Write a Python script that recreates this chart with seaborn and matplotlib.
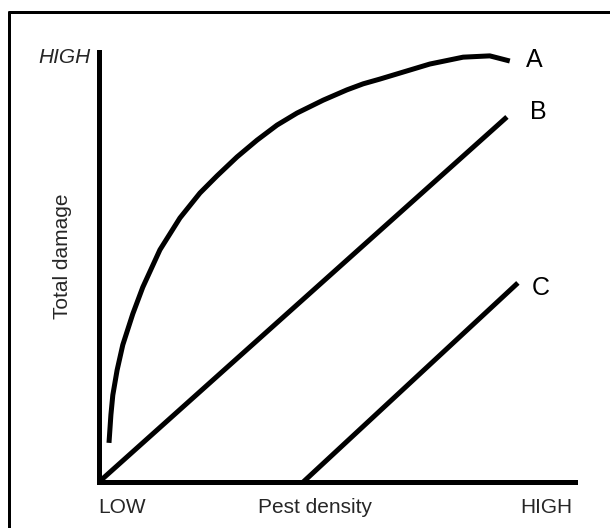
import matplotlib
matplotlib.use('Agg')
import matplotlib.pyplot as plt
import seaborn as sns
import pandas as pd
from matplotlib.lines import Line2D

# curve A: damage rises fast then levels off
density_a = [0.21, 0.25, 0.29, 0.38, 0.50, 0.71, 0.92, 1.28, 1.70, 2.12, 2.48,
             2.90, 3.32, 3.74, 4.16, 4.71, 5.21, 5.55, 5.90, 6.26, 6.95, 7.65,
             8.21, 8.63]
damage_a = [0.91, 1.56, 2.02, 2.60, 3.19, 3.91, 4.53, 5.40, 6.14, 6.72, 7.12,
            7.56, 7.95, 8.30, 8.58, 8.88, 9.12, 9.26, 9.37, 9.49, 9.72, 9.88,
            9.91, 9.79]
# curve B: proportional
density_b = [0.0, 8.57]
damage_b = [0.0, 8.49]
# curve C: no damage below a threshold
density_c = [4.29, 8.80]
damage_c = [0.0, 4.63]

curve_names = ['A', 'B', 'C']
# label offsets from the curve ends (pixels)
label_offsets = [(16, -6), (23, -2), (14, -12)]

PX = 0.72  # pixels -> points at 100 dpi

sns.set_style('white')
plt.rcParams['font.family'] = ['Liberation Sans', 'DejaVu Sans']

fig = plt.figure(figsize=(6.1, 5.28), dpi=100)
ax = fig.add_axes([99 / 610, 1 - 482 / 528, 476 / 610, 430 / 528])

curves = [(density_a, damage_a), (density_b, damage_b), (density_c, damage_c)]
for (xs, ys), name, (dx, dy) in zip(curves, curve_names, label_offsets):
    df = pd.DataFrame({'density': xs, 'damage': ys})
    sns.lineplot(data=df, x='density', y='damage', ax=ax, color='black',
                 lw=5 * PX, sort=False, estimator=None,
                 solid_capstyle='butt', solid_joinstyle='round')
    ax.annotate(name, xy=(xs[-1], ys[-1]), xytext=(dx * PX, dy * PX),
                textcoords='offset points', ha='left', va='baseline',
                fontsize=18, color='black')

ax.set_xlim(0, 10)
ax.set_ylim(0, 10)
ax.set_xticks([])
ax.set_yticks([])
ax.set_xlabel('')
ax.set_ylabel('')
sns.despine(ax=ax)
for side in ['left', 'bottom']:
    ax.spines[side].set_linewidth(5 * PX)
    ax.spines[side].set_color('black')

# axis end labels
ax.annotate('LOW', xy=(0, 0), xycoords='axes fraction', xytext=(-1 * PX, -31 * PX),
            textcoords='offset points', ha='left', va='baseline', fontsize=15)
ax.annotate('Pest density', xy=(0.334, 0), xycoords='axes fraction',
            xytext=(0, -31 * PX), textcoords='offset points',
            ha='left', va='baseline', fontsize=15)
ax.annotate('HIGH', xy=(1, 0), xycoords='axes fraction', xytext=(-3 * PX, -31 * PX),
            textcoords='offset points', ha='right', va='baseline', fontsize=15)
ax.annotate('HIGH', xy=(0, 1), xycoords='axes fraction', xytext=(-8 * PX, -11 * PX),
            textcoords='offset points', ha='right', va='baseline', fontsize=15,
            style='italic')
ax.annotate('Total damage', xy=(0, 0.526), xycoords='axes fraction',
            xytext=(-36 * PX, 0), textcoords='offset points', ha='center',
            va='center', rotation=90, fontsize=15)

# scanned page frame (top and left edges)
fig.add_artist(Line2D([9 / 610, 9 / 610], [0, 1 - 12 / 528], color='black',
                      lw=3 * PX, transform=fig.transFigure))
fig.add_artist(Line2D([9 / 610, 1], [1 - 12 / 528, 1 - 12 / 528], color='black',
                      lw=3 * PX, transform=fig.transFigure))

fig.savefig('out.png', dpi=100)
